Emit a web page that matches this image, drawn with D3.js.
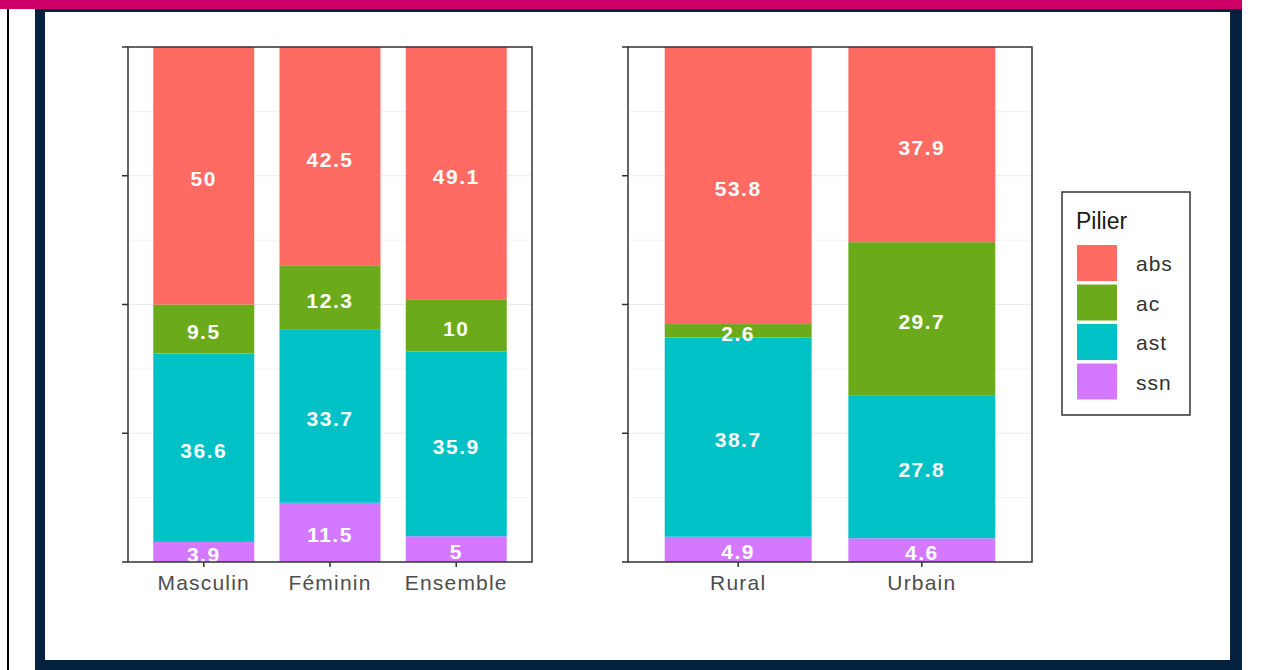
<!DOCTYPE html>
<html>
<head>
<meta charset="utf-8">
<script src="https://cdn.jsdelivr.net/npm/d3@7"></script>
<style>
  body { margin: 0; background: #fff; }
  svg { display: block; font-family: "Liberation Sans", Arial, sans-serif; }
</style>
</head>
<body>
<svg id="chart" width="1261" height="670"></svg>
<script>
// data
var piliers = ["abs", "ac", "ast", "ssn"];
var pilierColors = ["#FF6B62", "#6BAA1A", "#00C1C6", "#D479FF"];

var sexeCats = ["Masculin", "Féminin", "Ensemble"];
var sexeAbs = [50, 42.5, 49.1];
var sexeAc = [9.5, 12.3, 10];
var sexeAst = [36.6, 33.7, 35.9];
var sexeSsn = [3.9, 11.5, 5];

var milieuCats = ["Rural", "Urbain"];
var milieuAbs = [53.8, 37.9];
var milieuAc = [2.6, 29.7];
var milieuAst = [38.7, 27.8];
var milieuSsn = [4.9, 4.6];

var yTicks = [0, 25, 50, 75, 100];
var yMinor = [12.5, 37.5, 62.5, 87.5];

var svg = d3.select("#chart");

// frame
svg.append("rect").attr("x", 0).attr("y", 0).attr("width", 1242).attr("height", 9).attr("fill", "#CC0066");
svg.append("rect").attr("x", 7).attr("y", 9).attr("width", 2).attr("height", 661).attr("fill", "#000");
svg.append("rect").attr("x", 35).attr("y", 9).attr("width", 1207).attr("height", 661).attr("fill", "#04213F");
svg.append("rect").attr("x", 45).attr("y", 12).attr("width", 1185).attr("height", 648).attr("fill", "#fff");

var color = d3.scaleOrdinal().domain(piliers).range(pilierColors);

var y = d3.scaleLinear().domain([0, 100]).range([562, 47]);

function buildRows(cats, abs, ac, ast, ssn) {
  return cats.map(function (c, i) {
    return { cat: c, abs: abs[i], ac: ac[i], ast: ast[i], ssn: ssn[i] };
  });
}

// ssn at the bottom, abs on top
var stack = d3.stack().keys(["ssn", "ast", "ac", "abs"]);

var facet = function (rows, x0, x1, id) {
  var cats = rows.map(function (d) { return d.cat; });
  var x = d3.scaleBand().domain(cats).range([x0, x1]).paddingInner(0.2).paddingOuter(0.2);
  var g = svg.append("g");

  g.append("clipPath").attr("id", id).append("rect")
    .attr("x", x0).attr("y", y(100)).attr("width", x1 - x0).attr("height", y(0) - y(100));

  // grid
  g.selectAll(".minor").data(yMinor).enter().append("line")
    .attr("x1", x0).attr("x2", x1)
    .attr("y1", function (d) { return y(d); }).attr("y2", function (d) { return y(d); })
    .attr("stroke", "#F2F2F2").attr("stroke-width", 1);
  g.selectAll(".major").data(yTicks).enter().append("line")
    .attr("x1", x0).attr("x2", x1)
    .attr("y1", function (d) { return y(d); }).attr("y2", function (d) { return y(d); })
    .attr("stroke", "#EBEBEB").attr("stroke-width", 1.2);

  var series = stack(rows);
  var plot = g.append("g").attr("clip-path", "url(#" + id + ")");

  var layers = plot.selectAll(".layer").data(series).enter().append("g")
    .attr("fill", function (d) { return color(d.key); });
  layers.selectAll("rect").data(function (d) { return d; }).enter().append("rect")
    .attr("x", function (d) { return x(d.data.cat); })
    .attr("width", x.bandwidth())
    .attr("y", function (d) { return y(d[1]); })
    .attr("height", function (d) { return y(d[0]) - y(d[1]); });

  layers.each(function (s) {
    d3.select(this).selectAll("text").data(s).enter().append("text")
      .attr("x", function (d) { return x(d.data.cat) + x.bandwidth() / 2; })
      .attr("y", function (d) { return y((d[0] + d[1]) / 2); })
      .attr("dy", "0.48em")
      .attr("text-anchor", "middle")
      .attr("fill", "#fff")
      .attr("font-weight", "bold")
      .attr("font-size", 21)
      .attr("letter-spacing", 1.5)
      .text(function (d) { return d.data[s.key]; });
  });

  // panel border
  g.append("rect")
    .attr("x", x0).attr("y", y(100)).attr("width", x1 - x0).attr("height", y(0) - y(100))
    .attr("fill", "none").attr("stroke", "#333").attr("stroke-width", 1.5);

  // y ticks, no labels
  g.selectAll(".ytick").data(yTicks).enter().append("line")
    .attr("x1", x0 - 6).attr("x2", x0)
    .attr("y1", function (d) { return y(d); }).attr("y2", function (d) { return y(d); })
    .attr("stroke", "#333").attr("stroke-width", 1.5);

  // x axis
  var xAxis = g.append("g").attr("transform", "translate(0," + y(0) + ")")
    .call(d3.axisBottom(x).tickSize(5).tickSizeOuter(0).tickPadding(8));
  xAxis.select(".domain").remove();
  xAxis.selectAll(".tick line").attr("stroke", "#333").attr("stroke-width", 1.5);
  xAxis.selectAll(".tick text")
    .attr("fill", "#4D4D4D")
    .attr("font-size", 21)
    .attr("letter-spacing", 1.2)
    .attr("font-family", "Liberation Sans, Arial, sans-serif");
};

facet(buildRows(sexeCats, sexeAbs, sexeAc, sexeAst, sexeSsn), 128, 532, "clipSexe");
facet(buildRows(milieuCats, milieuAbs, milieuAc, milieuAst, milieuSsn), 628, 1032, "clipMilieu");

// legend
var legend = svg.append("g");
legend.append("rect")
  .attr("x", 1062).attr("y", 192).attr("width", 128).attr("height", 223)
  .attr("fill", "#fff").attr("stroke", "#333").attr("stroke-width", 1.5);
legend.append("text")
  .attr("x", 1076).attr("y", 229)
  .attr("font-size", 23).attr("fill", "#1A1A1A")
  .text("Pilier");
var keys = legend.selectAll(".key").data(piliers).enter().append("g")
  .attr("transform", function (d, i) { return "translate(1077," + (245 + i * 39.5) + ")"; });
keys.append("rect")
  .attr("width", 40).attr("height", 36)
  .attr("fill", function (d) { return color(d); });
keys.append("text")
  .attr("x", 59).attr("y", 19).attr("dy", "0.35em")
  .attr("font-size", 21).attr("letter-spacing", 1)
  .attr("fill", "#333")
  .text(function (d) { return d; });
</script>
</body>
</html>
